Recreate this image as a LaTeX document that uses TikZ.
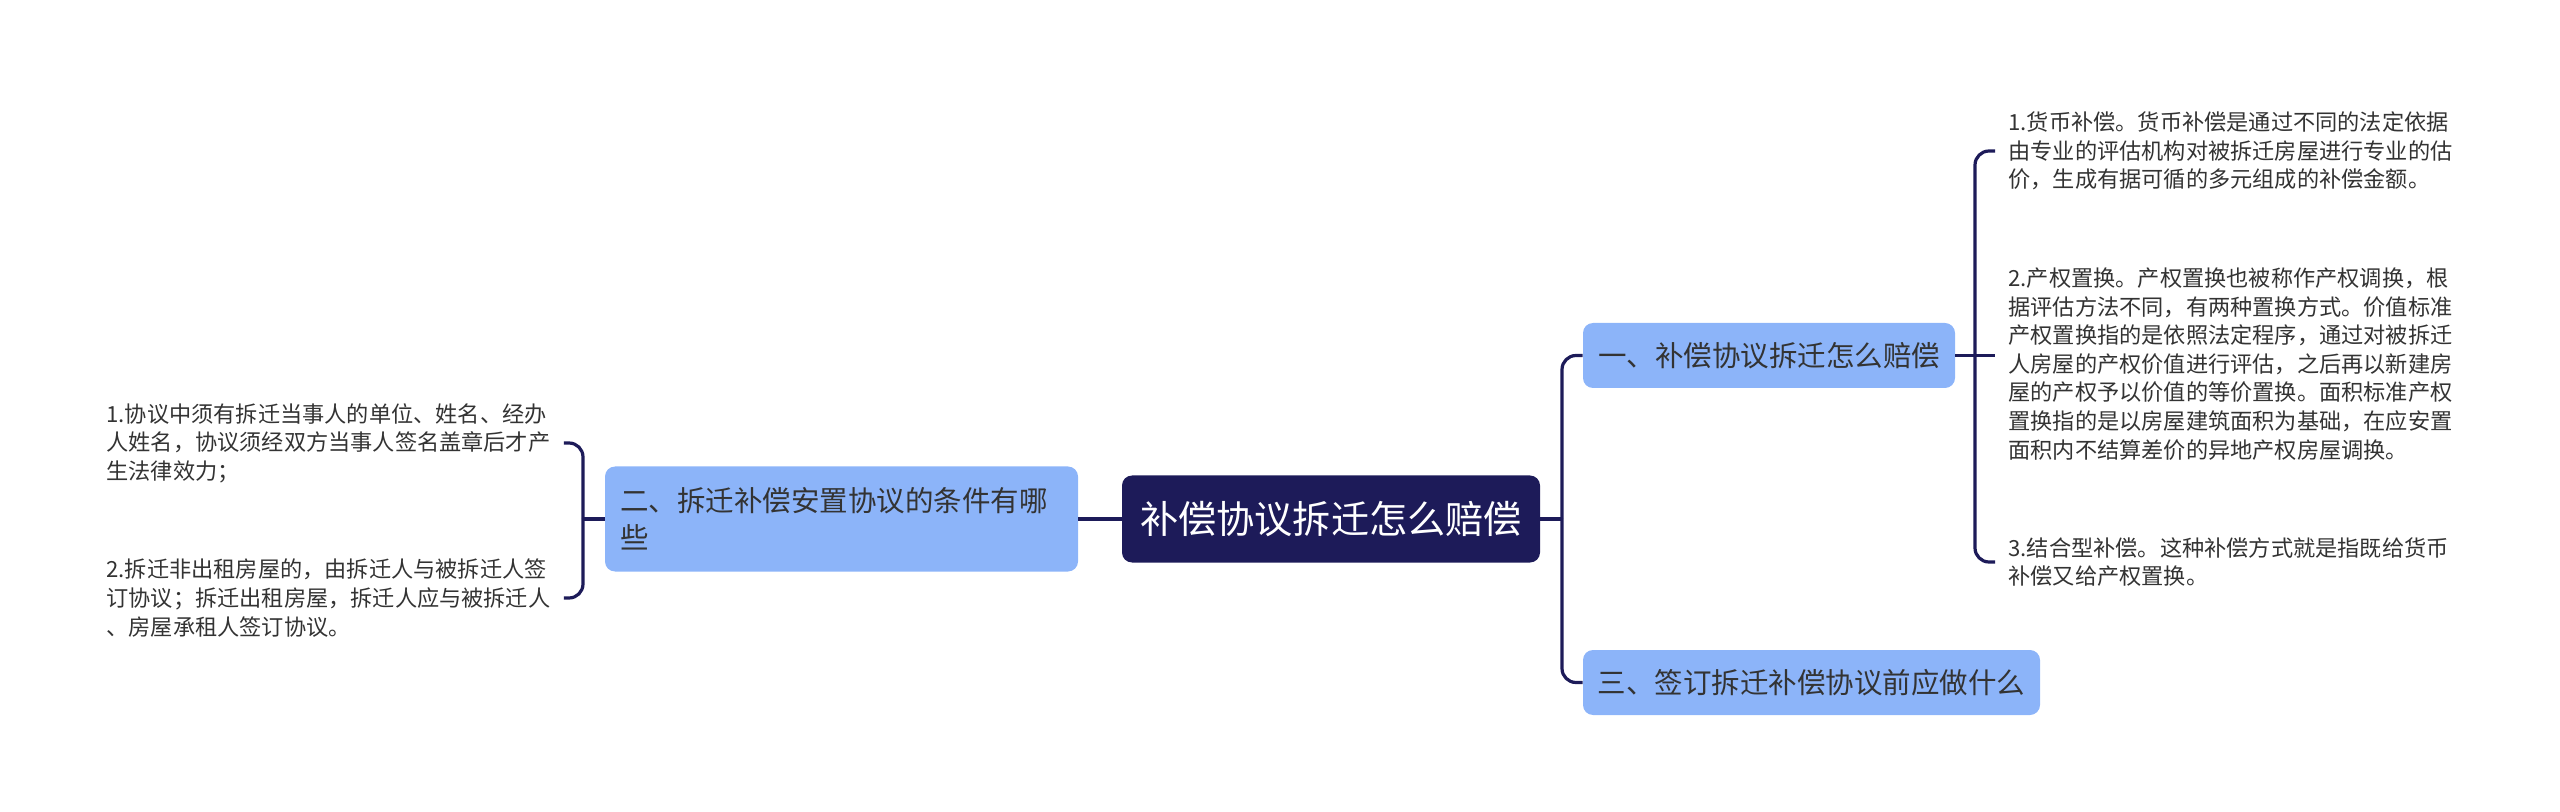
\documentclass[tikz,border=0pt]{standalone}
\usepackage{fontspec}
\setmainfont{Noto Sans CJK SC}
\usepackage{tikz}
\definecolor{navy}{HTML}{1D1B59}
\definecolor{skyblue}{HTML}{8CB4F9}
\definecolor{inkgray}{HTML}{333333}

\begin{document}
\begin{tikzpicture}[x=0.5pt, y=-0.5pt,
  topic/.style={rounded corners=5pt, fill=navy, text=white, minimum width=209pt, minimum height=43.5pt, font=\fontsize{19.1}{23}\selectfont},
  branch/.style={rounded corners=5pt, fill=skyblue, text=inkgray, minimum height=32.5pt, font=\fontsize{14.25}{18.5}\selectfont},
  leaf/.style={align=left, text=inkgray, inner ysep=0pt, font=\fontsize{11.1}{14.3}\selectfont},
  link/.style={draw=navy, line width=1.6pt, rounded corners=7pt}
]
\useasboundingbox (0,0) rectangle (2560,812);
\node[topic] (root) at (1331,519) {补偿协议拆迁怎么赔偿};
\node[branch, minimum width=186pt] (b1) at (1769,355.5) {一、补偿协议拆迁怎么赔偿};
\node[branch, minimum width=236.5pt, minimum height=52.5pt, text width=221.5pt, inner xsep=7.5pt, align=left] (b2) at (841.5,519) {二、拆迁补偿安置协议的条件有哪\\些};
\node[branch, minimum width=228.5pt] (b3) at (1811.5,682.5) {三、签订拆迁补偿协议前应做什么};
\node[leaf, anchor=west, inner xsep=6.5pt] (r1) at (1995,151) {1.货币补偿。货币补偿是通过不同的法定依据\\
由专业的评估机构对被拆迁房屋进行专业的估\\
价，生成有据可循的多元组成的补偿金额。};
\node[leaf, anchor=west, inner xsep=6.5pt] (r2) at (1995,364) {2.产权置换。产权置换也被称作产权调换，根\\
据评估方法不同，有两种置换方式。价值标准\\
产权置换指的是依照法定程序，通过对被拆迁\\
人房屋的产权价值进行评估，之后再以新建房\\
屋的产权予以价值的等价置换。面积标准产权\\
置换指的是以房屋建筑面积为基础，在应安置\\
面积内不结算差价的异地产权房屋调换。};
\node[leaf, anchor=west, inner xsep=6.5pt] (r3) at (1995,562) {3.结合型补偿。这种补偿方式就是指既给货币\\
补偿又给产权置换。};
\node[leaf, anchor=west, inner xsep=0pt, text width=228.5pt] (l1) at (106,443) {1.协议中须有拆迁当事人的单位、姓名、经办\\
人姓名，协议须经双方当事人签名盖章后才产\\
生法律效力；};
\node[leaf, anchor=west, inner xsep=0pt, text width=228.5pt] (l2) at (106,598) {2.拆迁非出租房屋的，由拆迁人与被拆迁人签\\
订协议；拆迁出租房屋，拆迁人应与被拆迁人\\
、房屋承租人签订协议。};
\coordinate (rs) at (1562,519);
\coordinate (bs) at (1975,355.5);
\coordinate (ls) at (583,519);
\draw[link] (root.east) -- (rs);
\draw[link] (rs) |- (b1.west);
\draw[link] (rs) |- (b3.west);
\draw[link] (b2.east) -- (root.west);
\draw[link] (b1.east) -- (bs);
\draw[link] (bs) |- (r1.west);
\draw[link] (bs) -- (r2.west |- bs);
\draw[link] (bs) |- (r3.west);
\draw[link] (b2.west) -- (ls);
\draw[link] (ls) |- (l1.east);
\draw[link] (ls) |- (l2.east);
\end{tikzpicture}
\end{document}
